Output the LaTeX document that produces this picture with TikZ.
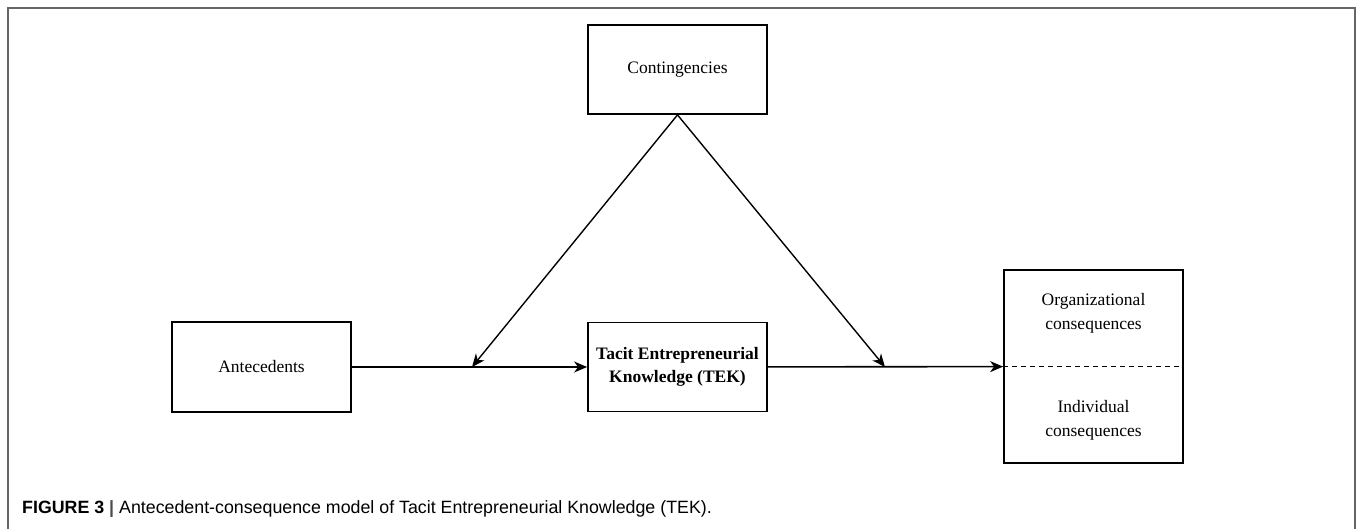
\documentclass[tikz,border=0pt]{standalone}
\usepackage{fontspec}
\setmainfont{Liberation Serif}
\newfontfamily\capfont{Liberation Sans}
\usepackage{tikz}
\usetikzlibrary{calc,positioning,arrows.meta}
\tikzset{
  % box styles (a box is given by its size in px)
  modelbox/.style={draw,line width=1.8pt,inner sep=0pt,align=center,font=\fontsize{17.5}{23}\selectfont},
  boxtext/.style={align=center,font=\fontsize{17.5}{23.5}\selectfont},
  % connector styles
  effect/.style={line width=1.6pt,-{Stealth[length=13pt,width=11pt,inset=4pt]}},
  modline/.style={line width=1.4pt,-{Stealth[length=13pt,width=11pt,inset=4pt]}},
  divider/.style={dashed,line width=1.4pt,dash pattern=on 5pt off 4pt},
  frame/.style={line width=2pt,draw=black!60},
}

\begin{document}
\begin{tikzpicture}[x=1pt,y=-1pt]
  \useasboundingbox (0,0) rectangle (1357,529);
  % outer frame, open at the bottom
  \draw[frame] (8,529) -- (8,8) -- (1355,8) -- (1355,529);
  % boxes
  \node[modelbox,minimum width=179pt,minimum height=89pt] (cont) at (677.5,69.5) {Contingencies};
  \node[modelbox,minimum width=179pt,minimum height=90pt] (ante) at (261.5,367) {Antecedents};
  \node[modelbox,minimum width=179pt,minimum height=89pt] (tek) at (677.5,367) {\textbf{Tacit Entrepreneurial}\\\textbf{Knowledge (TEK)}};
  \node[modelbox,minimum width=179pt,minimum height=193pt] (cons) at (1093.5,366.5) {};
  \node[boxtext] (org) at (1093.5,313.5) {Organizational\\consequences};
  \node[boxtext] (ind) at (1093.5,420.5) {Individual\\consequences};
  \draw[divider] (cons.west) -- (cons.east);
  % moderation points on the main line
  \coordinate (modl) at (472,367);
  \coordinate (modr) at (885,367);
  \draw[effect] (ante) -- (tek);
  \draw[effect] (tek) -- (cons);
  \draw[modline] (cont.south) -- (modl);
  \draw[modline] (cont.south) -- (modr);
  % caption
  \node[anchor=base west,inner sep=0pt,font=\capfont\fontsize{17.8}{20}\selectfont] (caption) at (22,513)
    {\textbf{FIGURE 3} \textcolor{black!70}{\textbf{|}} Antecedent-consequence model of Tacit Entrepreneurial Knowledge (TEK).};
\end{tikzpicture}
\end{document}
